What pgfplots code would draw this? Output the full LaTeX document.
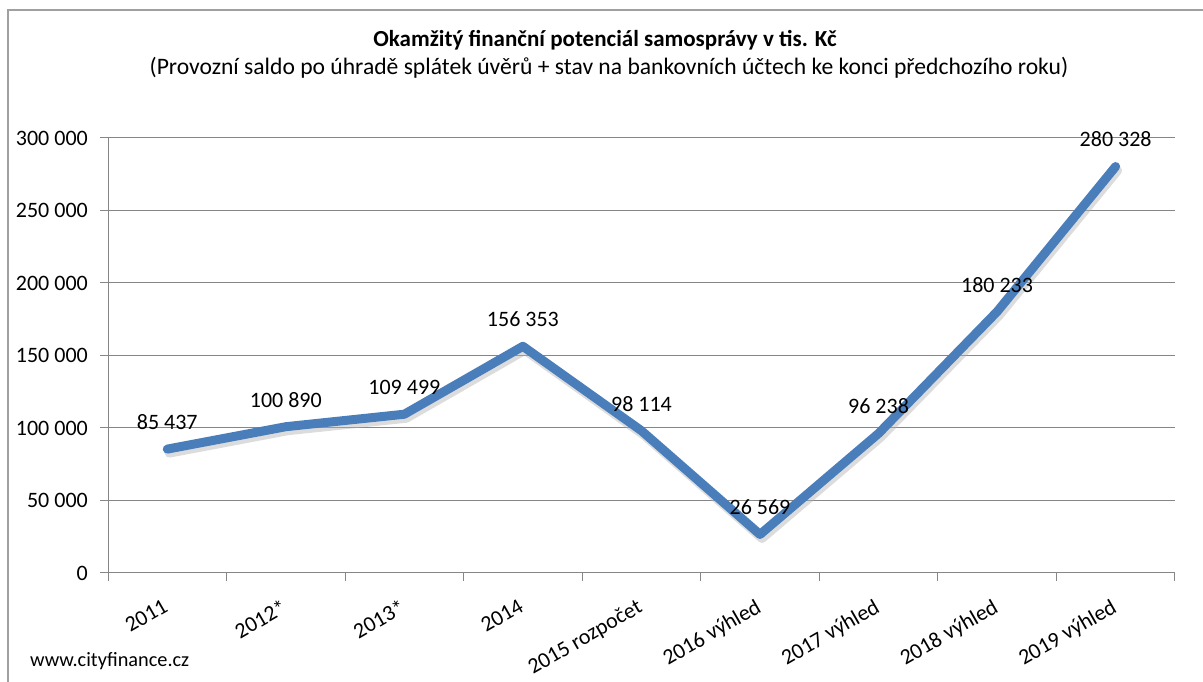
\documentclass[border=0pt]{standalone}
\usepackage{pgfplots}
\pgfplotsset{compat=1.18}
\usepackage{fontspec}
\setmainfont{Carlito}
\definecolor{lineblue}{RGB}{74,126,187}
\definecolor{gridgray}{RGB}{134,134,134}
\definecolor{framegray}{RGB}{160,160,160}
\pgfplotstableread{
x y label
0 85437 {85 437}
1 100890 {100 890}
2 109499 {109 499}
3 156353 {156 353}
4 98114 {98 114}
5 26569 {26 569}
6 96238 {96 238}
7 180233 {180 233}
8 280328 {280 328}
}\datatable
\begin{document}
\begin{tikzpicture}[x=1pt,y=1pt]
\draw[framegray, line width=2pt] (8,-5) -- (8,672) -- (1210,672);
\node[font=\fontsize{23}{27}\selectfont\bfseries] at (605,642) {Okamžitý finanční potenciál samosprávy v tis. Kč};
\node[font=\fontsize{23.6}{27}\selectfont] at (609,614) {(Provozní saldo po úhradě splátek úvěrů + stav na bankovních účtech ke konci předchozího roku)};
\node[anchor=west, inner sep=0pt, font=\fontsize{20.3}{24}\selectfont] at (30,21) {www.cityfinance.cz};
\begin{axis}[
  at={(108pt,109pt)}, anchor=south west,
  scale only axis, width=1067pt, height=435pt,
  xmin=-0.5, xmax=8.5, ymin=0, ymax=300000,
  axis x line*=bottom, axis y line*=left,
  axis line style={gridgray, line width=1pt, -},
  xtick={0,...,8},
  xticklabels={2011,2012*,2013*,2014,2015 rozpočet,2016 výhled,2017 výhled,2018 výhled,2019 výhled},
  minor xtick={-0.5,0.5,...,8.5},
  major x tick style={draw=none},
  minor x tick style={gridgray, line width=1pt},
  minor tick length=8pt,
  scaled y ticks=false,
  ytick={0,50000,...,300000},
  yticklabels={0,50 000,100 000,150 000,200 000,250 000,300 000},
  y tick style={gridgray, line width=1pt},
  major tick length=8pt,
  tick align=outside,
  ymajorgrids, major grid style={gridgray, line width=1pt},
  /pgf/number format/assume math mode=true,
  ticklabel style={font=\fontsize{22}{26}\selectfont, text=black},
  xticklabel style={rotate=30, anchor=north east, inner sep=0pt, xshift=-13pt, yshift=-12pt},
  yticklabel style={inner sep=0pt, xshift=-12pt},
  clip=false,
]
\addplot[gray!60, opacity=0.45, line width=9pt, line join=round, line cap=round,
  transform canvas={xshift=2pt, yshift=-4pt}] table[x=x, y=y] {\datatable};
\addplot[lineblue, line width=9pt, line join=round, line cap=round,
  nodes near coords, point meta=explicit symbolic,
  every node near coord/.append style={anchor=center, yshift=27pt, text=black, font=\fontsize{22}{26}\selectfont}]
  table[x=x, y=y, meta=label] {\datatable};
\end{axis}
\pgfresetboundingbox
\path[use as bounding box] (0,0) rectangle (1203,682);
\end{tikzpicture}
\end{document}
